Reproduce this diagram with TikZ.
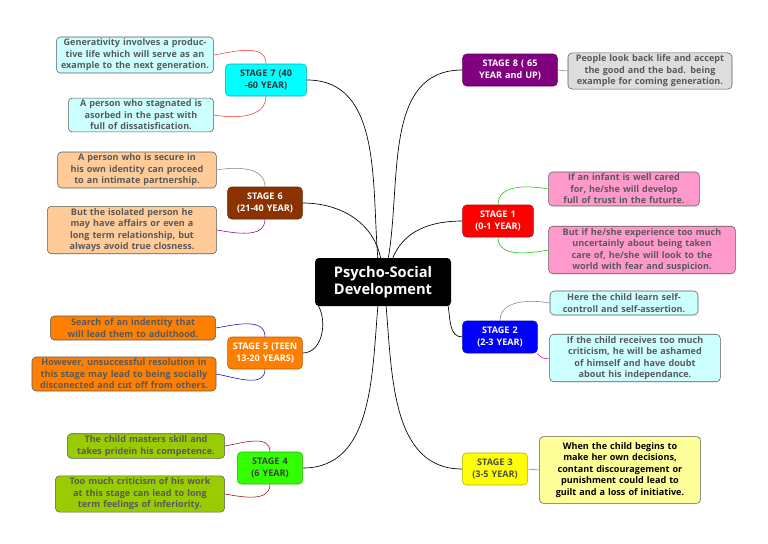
\documentclass[tikz,border=0pt]{standalone}
\usepackage{fontspec}
\setmainfont{Open Sans}
\begin{document}
\begin{tikzpicture}[x=0.75pt,y=-0.75pt,
  base/.style={rounded corners=3pt,draw=#1!70!black,line width=0.4pt,align=center,inner sep=1.5pt,font=\bfseries\fontsize{6.8}{8.6}\selectfont},
  stage/.style={base=#1,fill=#1,minimum height=24pt},
  leaf/.style={base=gray,text=black!65,minimum height=18pt},
  con/.style={line width=0.5pt,black}]
\useasboundingbox (0,0) rectangle (768,543);
\definecolor{cy}{HTML}{00FFFF}\definecolor{lcy}{HTML}{CCFFFF}
\definecolor{br}{HTML}{8B3300}\definecolor{lor}{HTML}{FFCC99}
\definecolor{or}{HTML}{FF8000}\definecolor{gr}{HTML}{33FF00}
\definecolor{lgr}{HTML}{99CC00}\definecolor{pu}{HTML}{800080}
\definecolor{lgy}{HTML}{DDDDDD}\definecolor{pk}{HTML}{FF99CC}
\definecolor{yl}{HTML}{FFFF00}\definecolor{lyl}{HTML}{FFFF99}
\definecolor{rd}{HTML}{FF0000}\definecolor{bl}{HTML}{0000FF}

\node[fill=black,text=white,rounded corners=3pt,minimum width=102pt,minimum height=36pt,align=center,font=\bfseries\fontsize{11}{13}\selectfont] (c) at (383,282) {Psycho-Social\\Development};

\node[stage=cy,text=black!80,text width=58pt] (s7) at (266,80) {STAGE 7 (40 -60 YEAR)};
\node[stage=br,text=white,text width=53pt] (s6) at (265,203) {STAGE 6 (21-40 YEAR)};
\node[stage=or,text=white,text width=53pt] (s5) at (265,353) {STAGE 5 (TEEN 13-20 YEARS)};
\node[stage=gr,text=black!75,text width=46pt] (s4) at (270,468) {STAGE 4 (6 YEAR)};
\node[stage=pu,text=white,text width=68pt] (s8) at (510,70) {STAGE 8 ( 65 YEAR and UP)};
\node[stage=rd,text=white,text width=50pt] (s1) at (498,221) {STAGE 1 (0-1 YEAR)};
\node[stage=bl,text=white,text width=53pt] (s2) at (500,337) {STAGE 2 (2-3 YEAR)};
\node[stage=yl,text=black!70,text width=46pt] (s3) at (495,469) {STAGE 3 (3-5 YEAR)};

\node[leaf,fill=lcy,text width=112pt,minimum width=118pt] (l7a) at (135,55) {Generativity involves a productive life which will serve as an example to the next generation.};
\node[leaf,fill=lcy,text width=103pt,minimum width=109pt] (l7b) at (141,115) {A person who stagnated is asorbed in the past with full of dissatisfication.};
\node[leaf,fill=lor,text width=113pt,minimum width=119pt] (l6a) at (137,170) {A person who is secure in his own identity can proceed to an intimate partnership.};
\node[leaf,fill=lor,text width=120pt,minimum width=127pt] (l6b) at (132,230) {But the isolated person he may have affairs or even a long term relationship, but always avoid true closness.};
\node[leaf,fill=or,text width=118pt,minimum width=124pt] (l5a) at (133,328) {Search of an indentity that will lead them to adulthood.};
\node[leaf,fill=or,text width=132pt,minimum width=138pt] (l5b) at (124,374) {However, unsuccessful resolution in this stage may lead to being socially disconected and cut off from others.};
\node[leaf,fill=lgr,text width=112pt,minimum width=118pt] (l4a) at (146,446) {The child masters skill and takes pridein his competence.};
\node[leaf,fill=lgr,text width=120pt,minimum width=127pt] (l4b) at (140,494) {Too much criticism of his work at this stage can lead to long term feelings of inferiority.};
\node[leaf,fill=lgy,text width=117pt,minimum width=123pt] (l8) at (650,71) {People look back life and accept the good and the bad. being example for coming generation.};
\node[leaf,fill=pk,text width=107pt,minimum width=113pt] (l1a) at (624,189) {If an infant is well cared for, he/she will develop full of trust in the futurte.};
\node[leaf,fill=pk,text width=134pt,minimum width=140pt] (l1b) at (642,250) {But if he/she experience too much uncertainly about being taken care of, he/she will look to the world with fear and suspicion.};
\node[leaf,fill=lcy,text width=105pt,minimum width=111pt] (l2a) at (624,303) {Here the child learn self-controll and self-assertion.};
\node[leaf,fill=lcy,text width=122pt,minimum width=128pt] (l2b) at (635,358) {If the child receives too much criticism, he will be ashamed of himself and have doubt about his independance.};
\node[leaf,fill=lyl,text=black,text width=115pt,minimum width=121pt,minimum height=50pt] (l3) at (620,470) {When the child begins to make her own decisions, contant discouragement or punishment could lead to guilt and a loss of initiative.};

% center to stages
\draw[con] (c.north west) ++(3,2) coordinate (cl) ;
\draw[con] (378,260) to[out=95,in=0] (s7.east);
\draw[con] (381,260) to[out=100,in=0] (s6.east);
\draw[con] (318,305) to[out=-60,in=0] (s5.east);
\draw[con] (378,305) to[out=-95,in=0] (s4.east);
\draw[con] (388,260) to[out=80,in=180] (s8.west);
\draw[con] (392,260) to[out=70,in=180] (s1.west);
\draw[con] (448,305) to[out=-80,in=180] (s2.west);
\draw[con] (386,305) to[out=-85,in=180] (s3.west);

% stages to leaves
\draw[red!80,line width=0.4pt] (s7.north) to[out=90,in=10] (l7a.east);
\draw[red!80,line width=0.4pt] (s7.south) to[out=-90,in=-10] (l7b.east);
\draw[gray,line width=0.4pt] (s6.north) to[out=90,in=10] (l6a.east);
\draw[pu,line width=0.4pt] (s6.south) to[out=-90,in=-10] (l6b.east);
\draw[bl!70!black,line width=0.4pt] (s5.north) to[out=90,in=10] (l5a.east);
\draw[bl!70!black,line width=0.4pt] (s5.south) to[out=-90,in=-10] (l5b.east);
\draw[red!60!black,line width=0.4pt] (s4.north) to[out=90,in=10] (l4a.east);
\draw[red!60!black,line width=0.4pt] (s4.south) to[out=-90,in=-10] (l4b.east);
\draw[gray,line width=0.4pt] (s8.east) -- (l8.west);
\draw[green!80!black,line width=0.4pt] (s1.north) to[out=90,in=170] (l1a.west);
\draw[green!80!black,line width=0.4pt] (s1.south) to[out=-90,in=190] (l1b.west);
\draw[gray,line width=0.4pt] (s2.north) to[out=90,in=170] (l2a.west);
\draw[magenta,line width=0.4pt] (s2.south east) to[out=-60,in=200] (l2b.west);
\draw[gray,line width=0.4pt] (s3.east) -- (l3.west);
\end{tikzpicture}
\end{document}
